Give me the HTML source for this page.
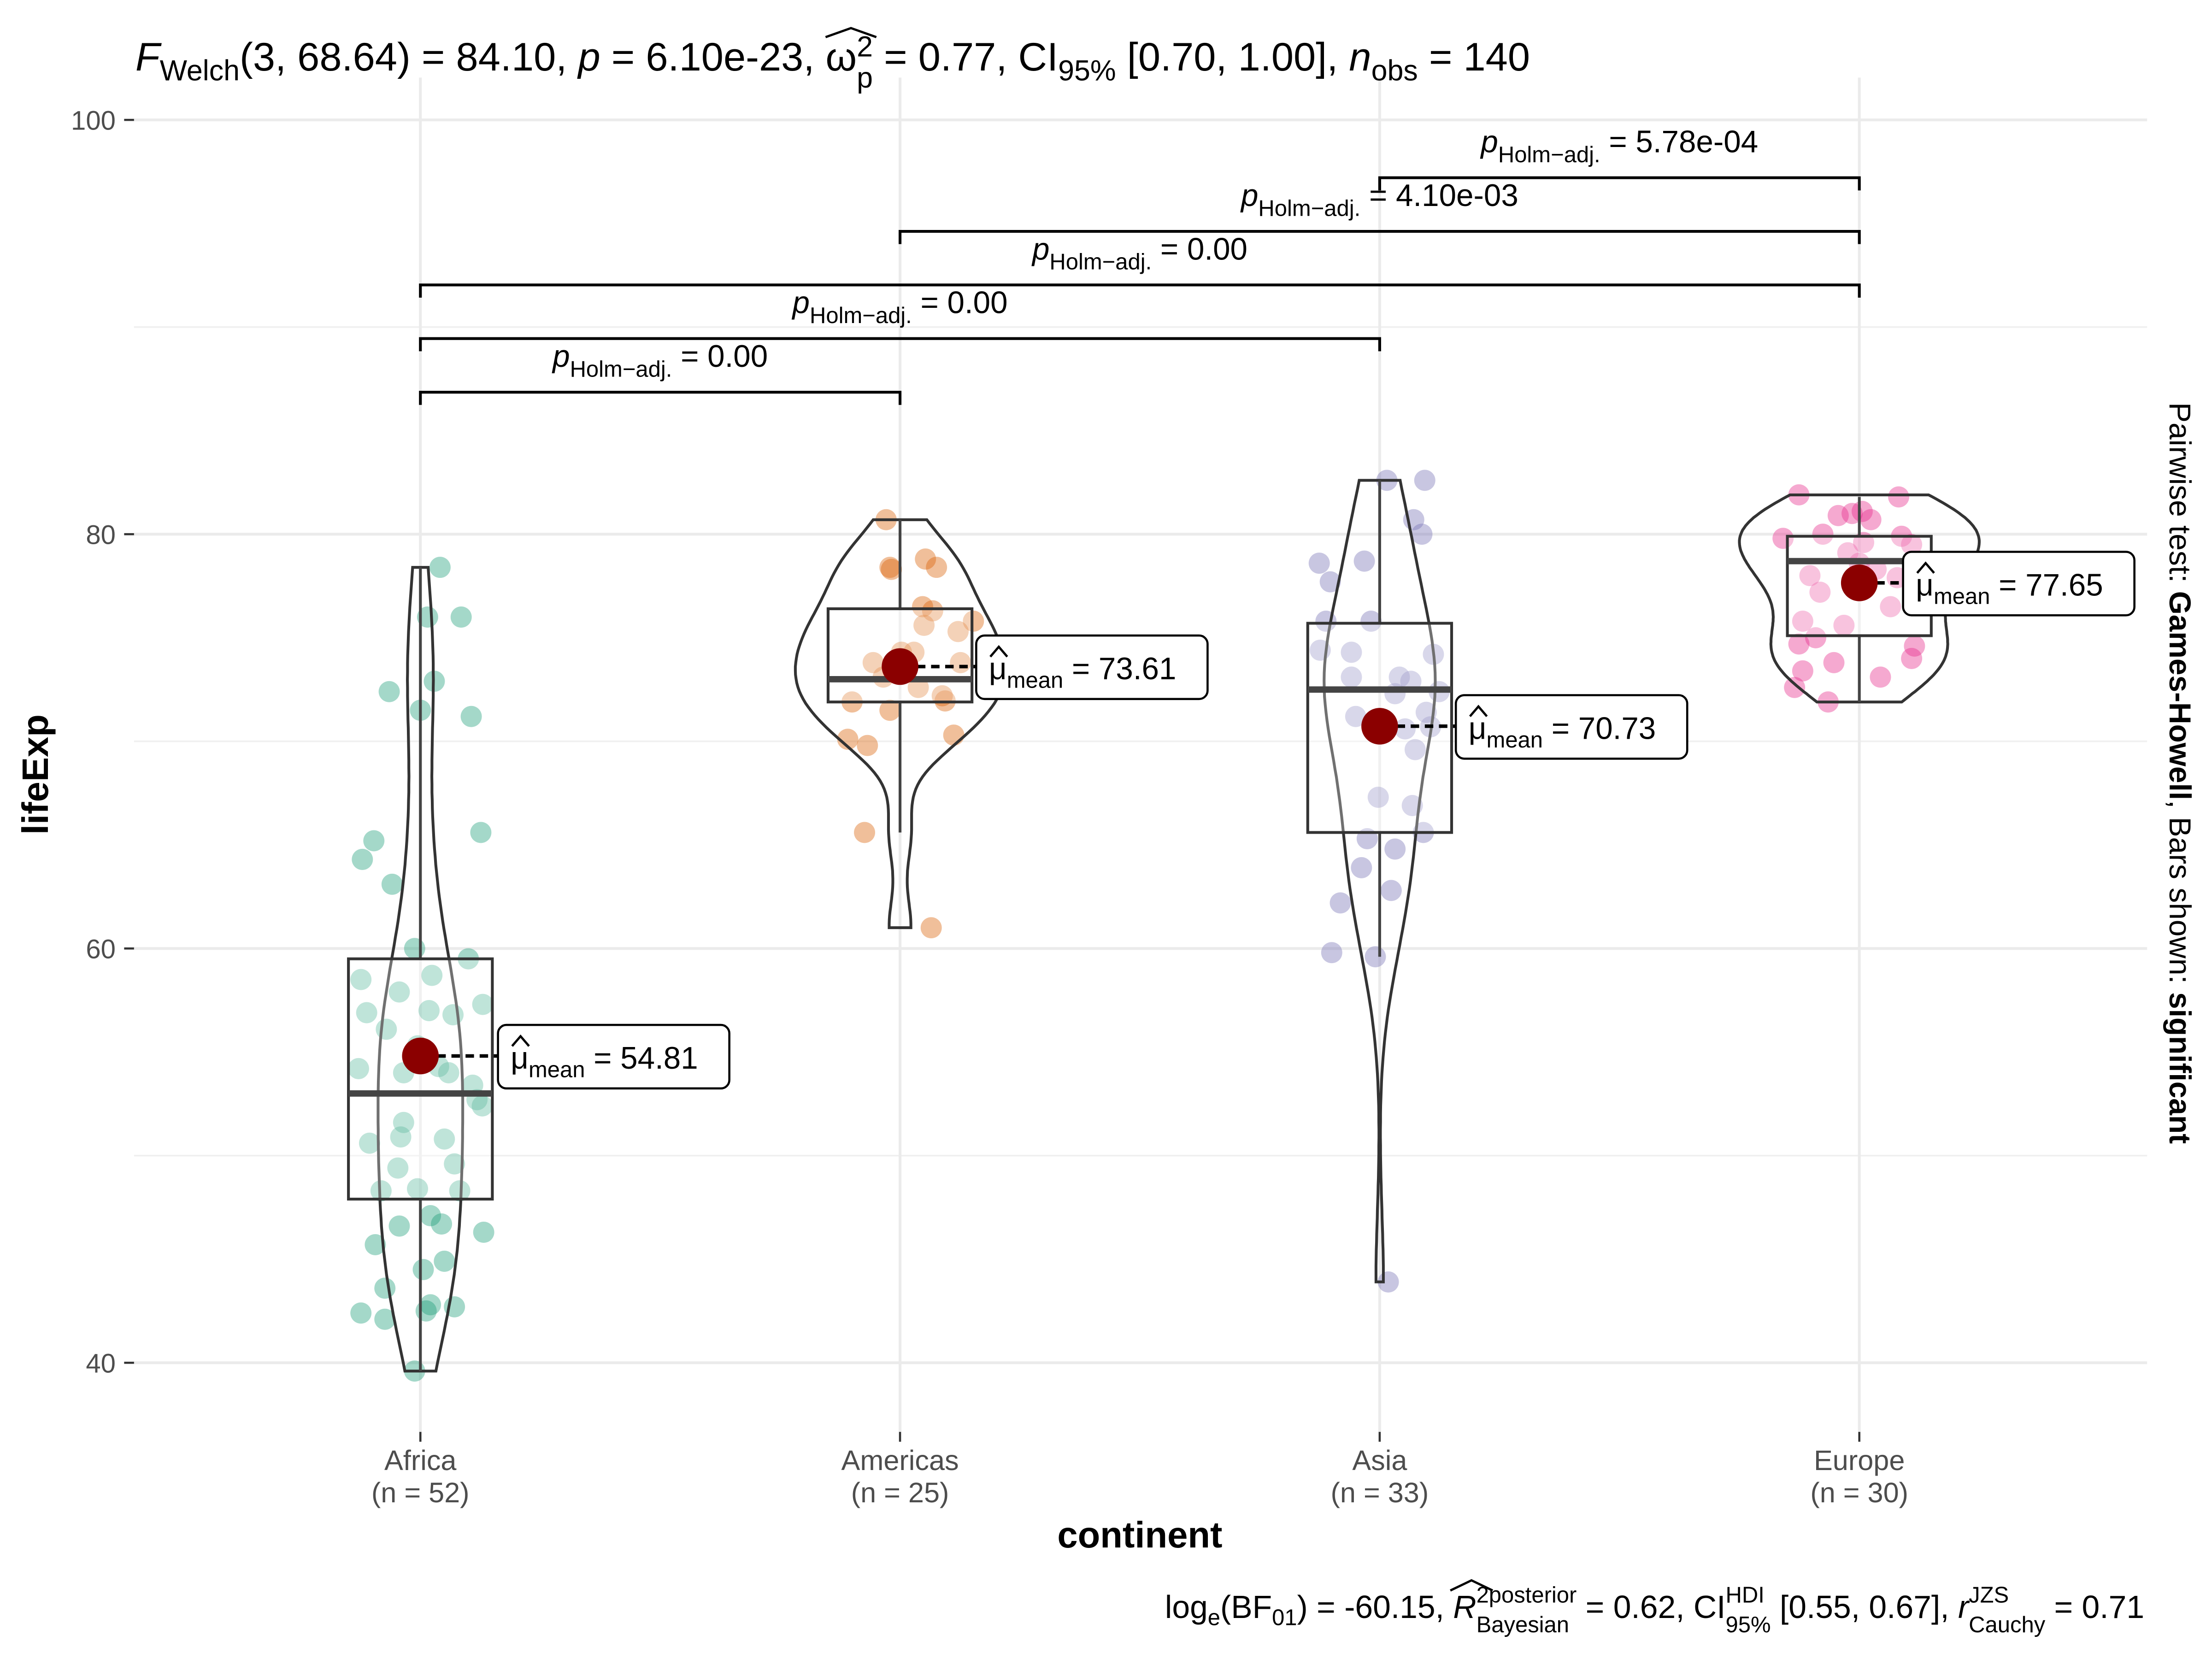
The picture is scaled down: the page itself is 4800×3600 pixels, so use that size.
<!DOCTYPE html>
<html><head><meta charset="utf-8"><style>
html,body{margin:0;padding:0;background:#fff;}
svg{display:block;font-family:"Liberation Sans",sans-serif;}
text{white-space:pre;}
</style></head><body>
<svg id="chart" width="4800" height="3600" viewBox="0 0 1568 1176" xmlns="http://www.w3.org/2000/svg">
<g id="grid"></g>
<g id="marks"></g>
<g id="axes"></g>
<g id="title"></g>
<g id="caption"></g>
<text transform="translate(34,549) rotate(-90)" text-anchor="middle" font-size="26" font-weight="bold">lifeExp</text>
<text x="808" y="1097" text-anchor="middle" font-size="26" font-weight="bold">continent</text>
<text transform="translate(1538,548) rotate(90)" text-anchor="middle" font-size="21.5">Pairwise test: <tspan font-weight="bold">Games-Howell</tspan>, Bars shown: <tspan font-weight="bold">significant</tspan></text>
</svg>
<script>
const categories = ["Africa","Americas","Asia","Europe"];
const counts = [52,25,33,30];
const colors = ["#1B9E77","#D95F02","#7570B3","#E7298A"];
const yTicks = [40,60,80,100];
const yMinor = [50,70,90];
const africaVals = [78.4,76.0,76.0,72.4,72.9,71.5,71.2,65.2,64.3,65.6,63.1,60.0,59.5,58.5,58.7,56.9,57.9,56.8,57.0,57.3,56.1,55.3,54.2,54.0,53.4,52.7,52.4,51.6,50.9,50.8,50.6,49.6,49.4,48.4,48.3,48.3,47.1,46.7,46.6,46.3,45.7,44.9,43.6,42.8,42.7,42.4,42.1,42.5,39.6,54.3,44.5,54.0];
const africaJit = [.041,.015,.085,-.065,.029,0,.106,-.097,-.121,.126,-.059,-.012,.1,-.124,.024,-.112,-.044,.068,.018,.13,-.071,-.006,-.129,-.035,.109,.118,.129,-.035,-.041,.05,-.106,.071,-.047,-.006,-.082,.082,.021,.044,-.044,.132,-.094,.05,-.074,.021,.071,-.124,-.074,.012,-.012,.038,.006,.059];
const americasVals = [80.7,78.4,78.8,78.4,78.3,76.5,76.3,75.6,75.3,73.8,74.3,73.8,73.1,72.2,72.6,71.9,71.95,71.5,70.1,69.8,70.3,65.6,61.0,74.3,75.8];
const americasJit = [-.029,-.021,.053,.076,-.018,.047,.068,.05,.121,.126,.029,-.056,-.035,.088,.038,-.1,.094,-.021,-.109,-.068,.112,-.074,.065,.003,.153];
const asiaVals = [82.6,82.6,80.7,80.0,78.6,78.7,77.7,75.8,74.4,74.3,73.1,72.9,74.2,72.3,71.4,71.2,70.7,70.6,69.6,67.3,66.9,65.3,65.6,64.8,63.9,62.2,62.8,59.8,59.6,43.9,73.1,72.4,75.8];
const asiaJit = [.015,.094,.071,.088,-.126,-.032,-.103,-.018,-.124,-.059,.041,.065,.112,.032,.097,-.05,.106,.053,.074,-.003,.068,-.026,.091,.032,-.038,-.082,.024,-.1,-.009,.018,-.059,.124,-.112];
const europeVals = [81.9,81.8,80.9,81.0,81.1,80.7,80.0,79.8,79.9,79.6,79.5,79.1,78.0,78.3,77.3,75.8,76.5,75.6,75.0,74.6,74.7,74.0,73.1,73.4,72.6,71.9,78.6,77.2,77.9,73.8];
const europeJit = [-.126,.082,-.044,-.015,.006,.024,-.076,-.159,.088,.009,.109,-.024,-.103,.035,.118,-.118,.065,-.032,-.091,.115,-.126,.109,.044,-.118,-.135,-.065,0,-.082,.079,-.053];
const boxQ1 = [47.9,71.9,65.6,75.1];
const boxMedian = [53.0,73.0,72.5,78.7];
const boxQ3 = [59.5,76.4,75.7,79.9];
const whiskLo = [39.6,65.6,59.6,71.9];
const whiskHi = [78.4,80.7,82.6,81.8];
const means = [54.81,73.61,70.73,77.65];
const meanLabels = ["54.81","73.61","70.73","77.65"];
const pairFrom = [0,0,0,1,2];
const pairTo = [1,2,3,3,3];
const pairP = ["0.00","0.00","0.00","4.10e-03","5.78e-04"];

const NS="http://www.w3.org/2000/svg";
const X0=298, XSTEP=340;
const xPos = i => X0 + i*XSTEP;
const yPos = v => 85 + (100 - v)*(881/60);
const labelOffset = [55,54,54,31];
function mk(tag, attrs, parent){const e=document.createElementNS(NS,tag);for(const k in attrs)e.setAttribute(k,attrs[k]);parent.appendChild(e);return e;}
const grid=document.getElementById('grid'), marks=document.getElementById('marks'), axes=document.getElementById('axes');
const L=95, R=1522, T=55, B=1015;

function rich(parent, items, x0, y0, anchorEnd){
  const g=mk('g',{},parent);let x=0;
  function put(it,x){const e=mk('text',{x:x,y:y0+(it.dy||0),'font-size':it.fs},g);if(it.it)e.setAttribute('font-style','italic');e.textContent=it.t.replace(/ /g,'\u00a0');return e.getComputedTextLength();}
  items.forEach(it=>{
    if(it.stack){const w1=put(it.stack[0],x),w2=put(it.stack[1],x);x+=Math.max(w1,w2);}
    else{const w=put(it,x);
      if(it.hat){const hw=it.hatW||w;const top=y0+(it.dy||0)-it.fs*0.78-it.hatH;const hx=x+(it.hatOff||0);mk('path',{d:`M${hx},${top+it.hatH*0.8}L${hx+hw/2},${top}L${hx+hw},${top+it.hatH*0.8}`,fill:'none',stroke:'#000','stroke-width':1.6},g);}
      x+=w;}
  });
  const sx=anchorEnd?x0-x:x0;g.setAttribute('transform',`translate(${sx},0)`);return g;}

const TF=28.3, TS=20.5;
rich(document.getElementById('title'),[
 {t:'F',fs:TF,it:true},{t:'Welch',fs:TS,dy:7},{t:'(3, 68.64) = 84.10, ',fs:TF},{t:'p',fs:TF,it:true},{t:' = 6.10e-23, ',fs:TF},
 {t:'ω',fs:TF,hat:true,hatH:8,hatW:36},{stack:[{t:'2',fs:TS,dy:-10},{t:'p',fs:TS,dy:12}]},{t:' = 0.77, CI',fs:TF},{t:'95%',fs:TS,dy:7},
 {t:' [0.70, 1.00], ',fs:TF},{t:'n',fs:TF,it:true},{t:'obs',fs:TS,dy:7},{t:' = 140',fs:TF}],96,50,false);

const CF=22.75, CS=16;
rich(document.getElementById('caption'),[
 {t:'log',fs:CF},{t:'e',fs:CS,dy:5},{t:'(BF',fs:CF},{t:'01',fs:CS,dy:5},{t:') = -60.15, ',fs:CF},
 {t:'R',fs:CF,it:true,hat:true,hatH:9,hatW:30,hatOff:-2},{stack:[{t:'2posterior',fs:CS,dy:-11},{t:'Bayesian',fs:CS,dy:10}]},{t:' = 0.62, CI',fs:CF},
 {stack:[{t:'HDI',fs:CS,dy:-11},{t:'95%',fs:CS,dy:10}]},{t:' [0.55, 0.67], ',fs:CF},{t:'r',fs:CF,it:true},
 {stack:[{t:'JZS',fs:CS,dy:-11},{t:'Cauchy',fs:CS,dy:10}]},{t:' = 0.71',fs:CF}],1520,1147,true);

yMinor.forEach(v=>{const l=mk('line',{x1:L,x2:R,y1:yPos(v),y2:yPos(v),stroke:'#f0f0f0','stroke-width':1.2},grid);

});
yTicks.forEach(v=>{const l=mk('line',{x1:L,x2:R,y1:yPos(v),y2:yPos(v),stroke:'#ebebeb','stroke-width':2},grid);


const t=mk('line',{x1:88,x2:95,y1:yPos(v),y2:yPos(v),stroke:'#333','stroke-width':1.5},axes);


const tx=mk('text',{x:82,y:yPos(v)+7,'text-anchor':'end','font-size':19,fill:'#4d4d4d'},axes);tx.textContent=v;

});
categories.forEach((c,i)=>{const x=xPos(i);
const l=mk('line',{x1:x,x2:x,y1:T,y2:B,stroke:'#ebebeb','stroke-width':2},grid);


const t=mk('line',{x1:x,x2:x,y1:B,y2:B+7,stroke:'#333','stroke-width':1.5},axes);


const tx=mk('text',{x:x,y:1042,'text-anchor':'middle','font-size':20,fill:'#4d4d4d'},axes);tx.textContent=c;


const tn=mk('text',{x:x,y:1065,'text-anchor':'middle','font-size':20,fill:'#4d4d4d'},axes);tn.textContent='(n = '+counts[i]+')';

});

const vals=[africaVals,americasVals,asiaVals,europeVals];
const jits=[africaJit,americasJit,asiaJit,europeJit];

vals.forEach((arr,g)=>{arr.forEach((v,k)=>{const c=mk('circle',{cx:xPos(g)+jits[g][k]*XSTEP,cy:yPos(v),r:7.5,fill:colors[g],'fill-opacity':0.4},marks);

});});

function sd(a){const m=a.reduce((s,x)=>s+x,0)/a.length;return Math.sqrt(a.reduce((s,x)=>s+(x-m)*(x-m),0)/(a.length-1));}
function quant(a,p){const s=[...a].sort((x,y)=>x-y);const h=(s.length-1)*p;const lo=Math.floor(h);return s[lo]+(s[Math.min(lo+1,s.length-1)]-s[lo])*(h-lo);}
const dens=vals.map(a=>{const bw=0.9*Math.min(sd(a),(quant(a,.75)-quant(a,.25))/1.34)*Math.pow(a.length,-0.2);
const mn=Math.min(...a),mx=Math.max(...a);const pts=[];
for(let s=0;s<=100;s++){const y=mn+(mx-mn)*s/100;let d=0;a.forEach(x=>{const z=(y-x)/bw;d+=Math.exp(-z*z/2);});d/=a.length*bw*Math.sqrt(2*Math.PI);pts.push([y,d]);}
return pts;});
const maxD=Math.max(...dens.map(p=>Math.max(...p.map(q=>q[1]))));
dens.forEach((pts,g)=>{const x=xPos(g);const hw=85;
let d='M'+pts.map(p=>(x+p[1]/maxD*hw).toFixed(1)+','+yPos(p[0]).toFixed(1)).join('L');
d+='L'+pts.slice().reverse().map(p=>(x-p[1]/maxD*hw).toFixed(1)+','+yPos(p[0]).toFixed(1)).join('L')+'Z';
const v=mk('path',{d:d,fill:'none',stroke:'#333','stroke-width':2},marks);

});

categories.forEach((c,g)=>{const x=xPos(g),hw=51;
const w1=mk('line',{x1:x,x2:x,y1:yPos(boxQ3[g]),y2:yPos(whiskHi[g]),stroke:'#444','stroke-width':2},marks);


const w2=mk('line',{x1:x,x2:x,y1:yPos(boxQ1[g]),y2:yPos(whiskLo[g]),stroke:'#444','stroke-width':2},marks);


const b=mk('rect',{x:x-hw,y:yPos(boxQ3[g]),width:2*hw,height:yPos(boxQ1[g])-yPos(boxQ3[g]),fill:'#fff','fill-opacity':0.3,stroke:'#333','stroke-width':2},marks);


const m=mk('line',{x1:x-hw,x2:x+hw,y1:yPos(boxMedian[g]),y2:yPos(boxMedian[g]),stroke:'#444','stroke-width':4.5},marks);


const y=yPos(means[g]);
const bx=x+labelOffset[g];
const dl=mk('line',{x1:x+2,x2:bx,y1:y,y2:y,stroke:'#000','stroke-width':2.5,'stroke-dasharray':'6,4'},marks);


const mp=mk('circle',{cx:x,cy:y,r:13,fill:'#8B0000'},marks);


const lb=mk('rect',{x:bx,y:y-22,width:164,height:45,rx:6,fill:'#fff',stroke:'#000','stroke-width':1.5},marks);


const hat=mk('path',{d:`M${bx+10},${y-7}L${bx+16},${y-14}L${bx+22},${y-7}`,fill:'none',stroke:'#000','stroke-width':1.6},marks);


const t=mk('text',{x:bx+9,y:y+9,'font-size':22},marks);


t.innerHTML='μ<tspan font-size="16" dy="6">mean</tspan><tspan dy="-6"> = '+meanLabels[g]+'</tspan>';});

pairFrom.forEach((f,k)=>{const yb=278-k*38;const x1=xPos(f),x2=xPos(pairTo[k]);
const br=mk('path',{d:`M${x1},${yb+9}L${x1},${yb}L${x2},${yb}L${x2},${yb+9}`,fill:'none',stroke:'#000','stroke-width':2},marks);


const t=mk('text',{x:(x1+x2)/2,y:yb-18,'text-anchor':'middle','font-size':22},marks);


t.innerHTML='<tspan font-style="italic">p</tspan><tspan font-size="16" dy="7">Holm−adj.</tspan><tspan dy="-7"> = '+pairP[k]+'</tspan>';});
</script>
</body></html>
